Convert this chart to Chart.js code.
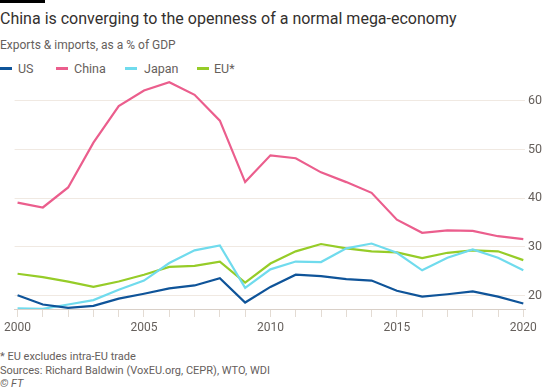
<!DOCTYPE html>
<html>
<head>
<meta charset="utf-8">
<script src="https://cdn.jsdelivr.net/npm/chart.js@4"></script>
<style>
  html, body { margin: 0; padding: 0; background: #ffffff; }
  body { width: 547px; height: 391px; position: relative; overflow: hidden; font-family: Roboto, "Noto Sans", sans-serif; }
  #bar { position: absolute; left: 0; top: 0; width: 45px; height: 3px; background: #000; }
  .t { position: absolute; left: 0; white-space: nowrap; }
  #title { top: 9px; font-size: 16px; color: #33302e; }
  #sub { top: 38px; font-size: 12px; color: #66605c; }
  #legend { position: absolute; top: 61px; left: 0; height: 16px; font-size: 12.5px; color: #66605c; }
  .li { position: absolute; top: 0; white-space: nowrap; }
  .sw { position: absolute; top: 6px; width: 12px; height: 2.5px; }
  #foot1 { top: 350px; font-size: 11px; color: #66605c; }
  #foot2 { top: 364px; font-size: 11px; color: #66605c; }
  #foot3 { top: 377px; font-size: 11px; color: #66605c; font-style: italic; }
  canvas { position: absolute; left: 0; top: 0; }
</style>
</head>
<body>
<div id="bar"></div>
<div class="t" id="title">China is converging to the openness of a normal mega-economy</div>
<div class="t" id="sub">Exports &amp; imports, as a % of GDP</div>
<div id="legend"></div>
<div class="t" id="foot1">* EU excludes intra-EU trade</div>
<div class="t" id="foot2">Sources: Richard Baldwin (VoxEU.org, CEPR), WTO, WDI</div>
<div class="t" id="foot3">© FT</div>
<canvas id="c" width="547" height="391"></canvas>
<script>
const years = [2000,2001,2002,2003,2004,2005,2006,2007,2008,2009,2010,2011,2012,2013,2014,2015,2016,2017,2018,2019,2020];
const us    = [20.1,18.2,17.5,17.9,19.4,20.4,21.5,22.1,23.6,18.6,21.8,24.3,24.0,23.4,23.1,21.0,19.8,20.3,20.9,19.8,18.4];
const china = [39.1,38.1,42.2,51.4,58.9,62.1,63.8,61.2,55.9,43.3,48.8,48.2,45.3,43.3,41.1,35.6,32.9,33.4,33.3,32.2,31.6];
const japan = [17.4,17.3,18.2,19.1,21.2,23.1,26.7,29.3,30.3,21.6,25.4,27.0,26.9,29.7,30.7,28.8,25.2,27.8,29.5,27.8,25.2];
const eu    = [24.5,23.8,22.9,21.8,22.9,24.3,25.9,26.1,27.0,22.7,26.6,29.1,30.6,29.7,29.1,28.9,27.7,28.8,29.3,29.1,27.3];
const yTicks = [20,30,40,50,60];
const xLabelYears = [2000,2005,2010,2015,2020];

const seriesNames = ['US','China','Japan','EU*'];
const seriesColors = ['#0f5499','#eb5e8d','#70dbed','#96cc28'];
const seriesData = [us, china, japan, eu];

// HTML legend
const legendX = [[0,18],[56,74],[125,144],[197,214]];
const lg = document.getElementById('legend');
seriesNames.forEach((n,i)=>{
  const sw = document.createElement('div'); sw.className='sw';
  sw.style.left = legendX[i][0]+'px'; sw.style.background = seriesColors[i];
  lg.appendChild(sw);
  const tx = document.createElement('div'); tx.className='li';
  tx.style.left = legendX[i][1]+'px'; tx.textContent = n;
  lg.appendChild(tx);
});

const datasets = seriesNames.map((n,i)=>({
  label: n,
  data: years.map((y,j)=>({x:y, y:seriesData[i][j]})),
  borderColor: seriesColors[i],
  backgroundColor: seriesColors[i],
  borderWidth: 2.2,
  pointRadius: 0,
  tension: 0,
  fill: false
}));
new Chart(document.getElementById('c'), {
  type: 'line',
  data: { datasets },
  options: {
    responsive: false,
    animation: false,
    layout: { padding: { left: 13, right: 0, top: 81, bottom: 46 } },
    plugins: { legend: { display: false }, tooltip: { enabled: false } },
    scales: {
      x: {
        type: 'linear',
        min: 1999.882,
        max: 2020.067,
        afterBuildTicks: s => { s.ticks = years.map(v=>({value:v})); },
        afterFit: s => { s.height = 36; },
        ticks: {
          autoSkip: false, maxRotation: 0, padding: 4,
          color: '#66605c', font: { family: 'Roboto', size: 12 },
          callback: v => xLabelYears.includes(v) ? String(v) : ''
        },
        grid: { drawOnChartArea: false, drawTicks: true, tickLength: 8, color: '#e3dbd3', lineWidth: 1 },
        border: { display: true, color: '#d9d0c8', width: 1 }
      },
      y: {
        position: 'right',
        min: 17.27,
        max: 64.04,
        afterBuildTicks: s => { s.ticks = yTicks.map(v=>({value:v})); },
        afterFit: s => { s.width = 22; },
        ticks: { padding: 3, color: '#66605c', font: { family: 'Roboto', size: 12.5 } },
        grid: { drawTicks: false, color: '#f0e9e2', lineWidth: 1 },
        border: { display: false }
      }
    }
  }
});
</script>
</body>
</html>
